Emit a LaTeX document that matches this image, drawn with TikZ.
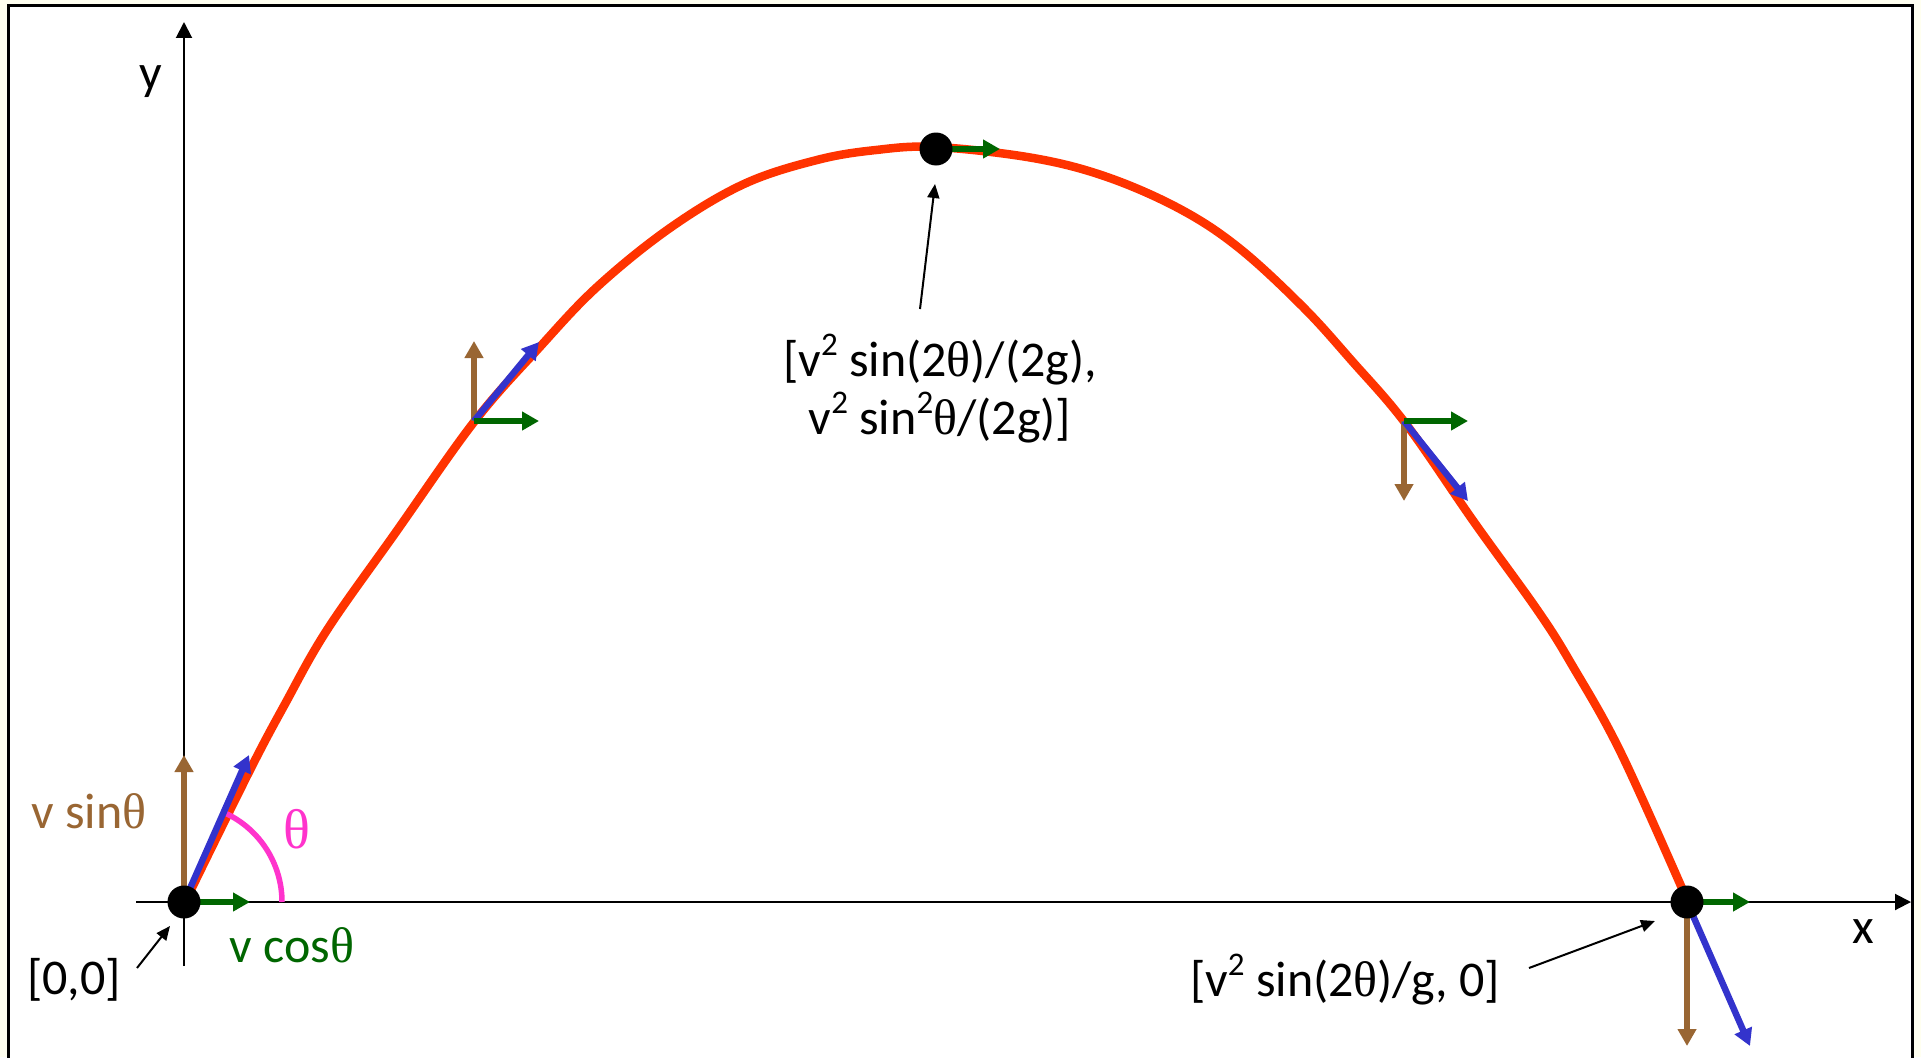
\documentclass[tikz,border=0pt]{standalone}
\usepackage{fontspec}
\setmainfont{Carlito}
\newfontfamily\thfont{Liberation Serif}
\usetikzlibrary{arrows.meta}
\definecolor{bg}{RGB}{255,255,240}
\definecolor{traj}{RGB}{255,51,0}
\definecolor{vx}{RGB}{0,102,0}
\definecolor{vy}{RGB}{153,102,51}
\definecolor{vv}{RGB}{51,51,204}
\definecolor{ang}{RGB}{255,51,204}
\newcommand{\tht}{{\thfont θ}}
\newcommand{\sqr}{\raisebox{0.42em}{\fontsize{33}{33}\selectfont 2}}
\begin{document}
\begin{tikzpicture}[x=1pt,y=-1pt,
  every node/.style={font=\fontsize{50}{58}\selectfont, inner sep=0pt},
  axis/.style={line width=2pt, -{Triangle[length=16pt,width=16pt]}},
  vecarrow/.style={line width=6pt, -{Triangle[length=17pt,width=18pt]}},
  note/.style={line width=2pt, -{Triangle[length=14pt,width=12pt]}},
  dot/.style={circle, fill=black, minimum size=33pt, inner sep=0pt}]
\fill[bg] (0,0) rectangle (1921,1057);
\useasboundingbox (0,0) rectangle (1921,1057);
\draw[line width=3pt, fill=white] (8,6) rectangle (1912,1075);
% axes
\coordinate (ybot) at (184,966);
\coordinate (ytop) at (184,22);
\coordinate (xleft) at (136,902);
\coordinate (xright) at (1911,902);
\draw[axis] (ybot) -- (ytop);
\draw[axis] (xleft) -- (xright);
\node (ylab) at (151,82) {y};
\node (xlab) at (1863,932) {x};
% trajectory
\draw[traj, line width=8.5pt, line cap=round] plot[smooth, tension=0.6] coordinates {
 (185,902) (249,772) (285,704) (327,630) (396,532) (474,422) (538,349) (597,287)
 (670,228) (744,184) (817,160) (876,150) (936,147) (1033,158) (1107,177) (1180,209)
 (1239,248) (1303,307) (1352,361) (1406,424) (1474,522) (1538,611) (1572,665)
 (1621,753) (1688,902)};
% points
\coordinate (O) at (184,902);
\coordinate (A) at (474,421);
\coordinate (T) at (936,149);
\coordinate (B) at (1404,421);
\coordinate (R) at (1687,902);
% angle arc
\draw[ang, line width=5.5pt] (O) ++(98,0) arc[start angle=0, end angle=-65, radius=98];
\node[text=ang, font=\fontsize{56}{60}\selectfont] (thlab) at (297,829) {\tht};
% vectors at origin
\coordinate (Oy) at (184,755);
\coordinate (Ox) at (250,902);
\coordinate (Ov) at (249,755);
\draw[vecarrow, vy] (O) -- (Oy);
\draw[vecarrow, vv, line width=6.5pt] (O) -- (Ov);
\draw[vecarrow, vx] (O) -- (Ox);
% vectors at A
\coordinate (Ay) at (474,341);
\coordinate (Ax) at (539,421);
\coordinate (Av) at (539,342);
\draw[vecarrow, vy] (A) -- (Ay);
\draw[vecarrow, vv, line width=6.5pt] (A) -- (Av);
\draw[vecarrow, vx] (A) -- (Ax);
% vectors at B
\coordinate (By) at (1404,501);
\coordinate (Bx) at (1468,421);
\coordinate (Bv) at (1468,501);
\draw[vecarrow, vy] (B) -- (By);
\draw[vecarrow, vv, line width=6.5pt] (B) -- (Bv);
\draw[vecarrow, vx] (B) -- (Bx);
% vector at top
\coordinate (Tx) at (1000,149);
\draw[vecarrow, vx] (T) -- (Tx);
% vectors at R
\coordinate (Ry) at (1687,1046);
\coordinate (Rx) at (1750,902);
\coordinate (Rv) at (1750,1046);
\draw[vecarrow, vy] (R) -- (Ry);
\draw[vecarrow, vv, line width=6.5pt] (R) -- (Rv);
\draw[vecarrow, vx] (R) -- (Rx);
% dots
\node[dot] (dO) at (O) {};
\node[dot] (dT) at (T) {};
\node[dot] (dR) at (R) {};
% labels
\node[text=vy] (sinlab) at (89,811) {v sin\tht};
\node[text=vx] (coslab) at (292,945) {v cos\tht};
\node (origlab) at (74,980) {[0,0]};
\node[align=center] (toplab) at (940,389) {[v\sqr\ sin(2\tht)/(2g),\\ v\sqr\ sin\sqr\tht/(2g)]};
\node (rangelab) at (1345,980) {[v\sqr\ sin(2\tht)/g, 0]};
% annotation arrows
\coordinate (n0a) at (137,968);
\coordinate (n0b) at (170,926);
\coordinate (n1a) at (920,309);
\coordinate (n1b) at (935,184);
\coordinate (n2a) at (1529,968);
\coordinate (n2b) at (1655,921);
\draw[note] (n0a) -- (n0b);
\draw[note] (n1a) -- (n1b);
\draw[note] (n2a) -- (n2b);
\end{tikzpicture}
\end{document}
